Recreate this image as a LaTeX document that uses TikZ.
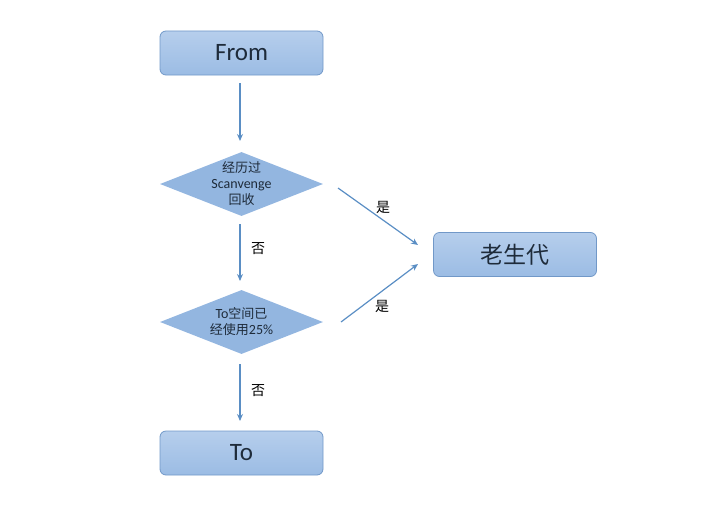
\documentclass[tikz,border=0pt]{standalone}
\usepackage{fontspec}
\setmainfont{Carlito}
\newfontfamily\cjk{Noto Sans CJK SC}
\usetikzlibrary{shapes.geometric,arrows.meta}
\definecolor{boxtop}{HTML}{B6CEEC}
\definecolor{boxbot}{HTML}{9BBCE4}
\definecolor{boxline}{HTML}{7198C8}
\definecolor{diafill}{HTML}{93B6E0}
\definecolor{arrowc}{HTML}{5A8EC4}
\definecolor{txt}{HTML}{1E2B3A}
\tikzset{
  boxnode/.style={draw=boxline, line width=0.8pt, rounded corners=6pt, top color=boxtop, bottom color=boxbot,
    minimum width=163pt, minimum height=44pt, inner sep=0pt, text=txt, font=\fontsize{25pt}{28pt}\selectfont},
  dianode/.style={diamond, draw=none, fill=diafill, minimum width=163pt, minimum height=64pt, aspect=2.55,
    inner xsep=-40pt, inner ysep=-15pt, text=txt, align=center, font=\fontsize{14pt}{16pt}\selectfont},
  arr/.style={draw=arrowc, line width=1.2pt, -{Stealth[length=7pt,width=6pt]}},
  lbl/.style={text=black, font=\cjk\fontsize{14pt}{16pt}\selectfont, inner sep=0pt},
  cj/.style={}
}
\newcommand{\cjt}[1]{{\cjk\fontsize{13pt}{16pt}\selectfont #1}}
\begin{document}
\begin{tikzpicture}[x=1pt,y=-1pt]
\useasboundingbox (0,0) rectangle (719,519);
\node[boxnode] (from) at (241.5,53) {From};
\node[dianode] (d1) at (241.5,184) {\cjt{经历过}\\Scanvenge\\\cjt{回收}};
\node[dianode] (d2) at (241.5,322) {To\cjt{空间已}\\\cjt{经使用}25\%};
\node[boxnode] (to) at (241.5,453) {To};
\node[boxnode, font=\cjk\fontsize{23pt}{26pt}\selectfont] (old) at (515,254.5) {老生代};
\coordinate (a1s) at (240,83);
\coordinate (a1e) at (240,141);
\coordinate (a2s) at (240,224);
\coordinate (a2e) at (240,281);
\coordinate (a3s) at (240,364);
\coordinate (a3e) at (240,421);
\coordinate (b1s) at (338,188);
\coordinate (b1e) at (418,245);
\coordinate (b2s) at (341,322);
\coordinate (b2e) at (418,264);
\draw[arr] (a1s) -- (a1e);
\draw[arr] (a2s) -- (a2e);
\draw[arr] (a3s) -- (a3e);
\draw[arr] (b1s) -- (b1e);
\draw[arr] (b2s) -- (b2e);
\node[lbl] (l1) at (258,249) {否};
\node[lbl] (l2) at (258,391) {否};
\node[lbl] (l3) at (383,207) {是};
\node[lbl] (l4) at (382,306) {是};
\end{tikzpicture}
\end{document}
